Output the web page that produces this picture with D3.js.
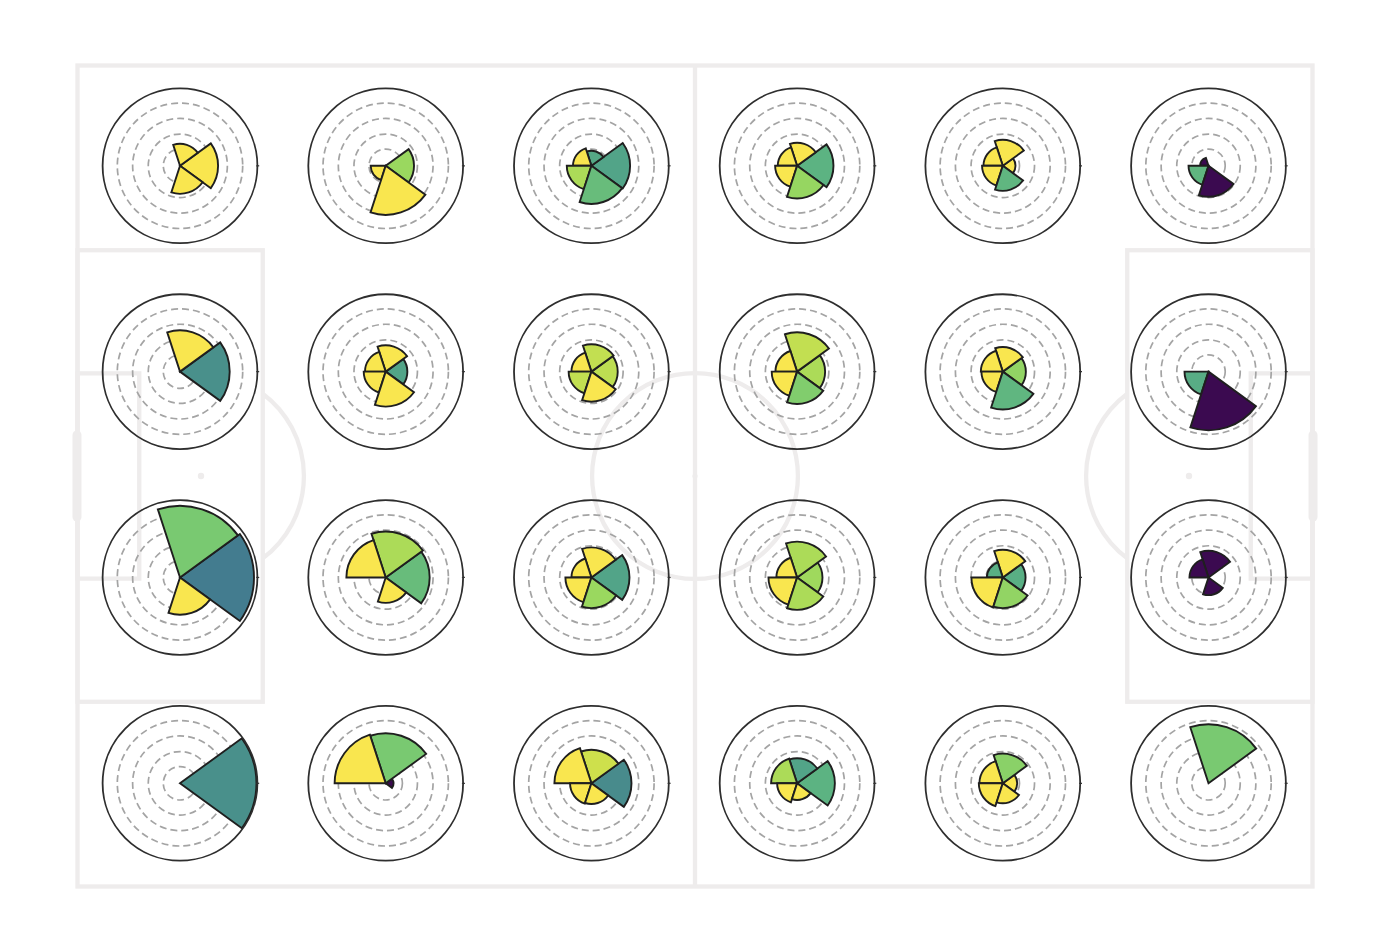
<!DOCTYPE html>
<html>
<head>
<meta charset="utf-8">
<script src="https://cdn.jsdelivr.net/npm/d3@7"></script>
<style>
html,body{margin:0;padding:0;background:#fff;}
svg{display:block;filter:blur(0.6px);}
</style>
</head>
<body>
<div id="chart"></div>
<script>
// Sector centres, degrees counter-clockwise from east (draw order = this order)
const sectorAngles = [0, 72, 144, 216, 288];
const sectorWidth = 72;
const ringTicks = [1.08, 2.05, 3.06, 4.05];
const pitchColumns = [10, 30, 50, 70, 90, 110];
const pitchRows = [10, 30, 50, 70];

// Bar lengths, one list per panel: [E, NNE, WNW, SW, SSE]
const radiiRow1 = [
  [2.46,1.42,0,0,1.81],[1.83,0,0,0.97,3.17],[2.50,0.97,1.19,1.59,2.46],
  [2.35,1.49,1.25,1.42,2.11],[0.82,1.68,1.25,1.34,1.62],[0,0,0.54,1.29,2.00]];
const radiiRow2 = [
  [3.21,2.67,0,0,0],[1.40,1.70,1.34,1.42,2.26],[1.70,1.77,1.29,1.47,1.94],
  [1.81,2.54,1.40,1.64,2.09],[1.49,1.59,1.42,1.38,2.44],[0,0,0,1.55,3.79]];
const radiiRow3 = [
  [4.78,4.63,0,0,2.41],[2.84,2.97,2.54,0,1.64],[2.46,1.94,1.29,1.68,1.98],
  [1.64,2.31,1.34,1.85,2.09],[1.47,1.79,1.03,2.03,1.98],[0,1.72,1.23,0,1.14]];
const radiiRow4 = [
  [4.94,0,0,0,0],[0.5,3.23,3.30,0,0],[2.59,2.16,2.39,1.38,1.34],
  [2.44,1.62,1.68,1.29,1.08],[0.93,1.92,1.51,1.55,1.29],[0,3.81,0,0,0]];

// Colour value of each bar, same layout
const shadeRow1 = [
  [1,1,0,0,1],[.8,0,0,1,1],[.58,.6,1,.84,.68],
  [.65,1,1,1,.79],[1,1,1,1,.66],[0,0,0,.66,0]];
const shadeRow2 = [
  [.5,1,0,0,0],[.58,1,1,1,1],[.88,.89,1,.89,1],
  [.84,.89,1,1,.74],[.78,1,1,1,.66],[0,0,0,.62,0]];
const shadeRow3 = [
  [.42,.72,0,0,1],[.68,.84,1,0,1],[.58,1,1,1,.8],
  [.81,.84,1,1,.84],[.63,1,.63,1,.78],[0,0,0,0,0]];
const shadeRow4 = [
  [.5,0,0,0,0],[0,.72,1,0,0],[.48,.92,1,1,1],
  [.65,.58,.84,1,1],[1,.76,1,1,1],[0,.72,0,0,0]];

const radiiRows = [radiiRow1, radiiRow2, radiiRow3, radiiRow4];
const shadeRows = [shadeRow1, shadeRow2, shadeRow3, shadeRow4];

const W = 1390, H = 952;
const svg = d3.select("#chart").append("svg").attr("width", W).attr("height", H);
svg.append("rect").attr("width", W).attr("height", H).attr("fill", "#fff");

// Pitch (120 x 80 units)
const px = d3.scaleLinear().domain([0, 120]).range([77.5, 1312.5]);
const py = d3.scaleLinear().domain([0, 80]).range([65.5, 886.5]);
const pitchInk = "#eeecec";
const pitch = svg.append("g").attr("fill", "none").attr("stroke", pitchInk).attr("stroke-width", 4.3);
const box = (x0, y0, x1, y1) => pitch.append("rect")
  .attr("x", px(x0)).attr("y", py(y0)).attr("width", px(x1) - px(x0)).attr("height", py(y1) - py(y0));
box(0, 0, 120, 80);
box(0, 18, 18, 62); box(102, 18, 120, 62);
box(0, 30, 6, 50);  box(114, 30, 120, 50);
pitch.append("line").attr("x1", px(60)).attr("x2", px(60)).attr("y1", py(0)).attr("y2", py(80));
const unit = px(1) - px(0);
pitch.append("circle").attr("cx", px(60)).attr("cy", py(40)).attr("r", 10 * unit);
const arcGen = d3.arc();
const halfArc = Math.acos(6 / 10);
[[12, Math.PI / 2], [108, -Math.PI / 2]].forEach(([sx, mid]) => {
  pitch.append("path")
    .attr("transform", `translate(${px(sx)},${py(40)})`)
    .attr("d", arcGen({innerRadius: 10 * unit, outerRadius: 10 * unit, startAngle: mid - halfArc, endAngle: mid + halfArc}));
  svg.append("circle").attr("cx", px(sx)).attr("cy", py(40)).attr("r", 3.2).attr("fill", pitchInk);
});
svg.append("circle").attr("cx", px(60)).attr("cy", py(40)).attr("r", 2.6).attr("fill", pitchInk);
[-0.05, 120.05].forEach(gx => {
  svg.append("line").attr("x1", px(gx)).attr("x2", px(gx)).attr("y1", py(36)).attr("y2", py(44))
    .attr("stroke", pitchInk).attr("stroke-width", 9).attr("stroke-linecap", "round");
});

// Panels
const panelX = d3.scalePoint().domain(pitchColumns).range([180, 1208.5]);
const panelY = d3.scalePoint().domain(pitchRows).range([165.8, 783.3]);
const r = d3.scaleLinear().domain([0, 5]).range([0, 77.4]);
const shade = d3.scaleLinear()
  .domain([0, .42, .5, .58, .65, .72, .8, .86, .92, 1])
  .range(["#3b0a50", "#437c8f", "#49908b", "#52a488", "#5cb382", "#79c971", "#9ad85f", "#b5dd55", "#cee04c", "#f9e64f"]);
const wedge = d3.arc().innerRadius(0);
const rad = d => d * Math.PI / 180;

pitchRows.forEach((row, i) => {
  pitchColumns.forEach((col, j) => {
    const g = svg.append("g").attr("transform", `translate(${panelX(col)},${panelY(row)})`);
    g.selectAll("circle.ring").data(ringTicks).join("circle").attr("class", "ring")
      .attr("r", d => r(d)).attr("fill", "none")
      .attr("stroke", "#a4a4a4").attr("stroke-width", 1.7).attr("stroke-dasharray", "7,4");
    const bars = sectorAngles.map((a, k) => ({a, v: radiiRows[i][j][k], c: shadeRows[i][j][k]}))
      .filter(d => d.v > 0);
    g.selectAll("path.bar").data(bars).join("path").attr("class", "bar")
      .attr("d", d => wedge({
        outerRadius: r(d.v),
        startAngle: rad(90 - d.a - sectorWidth / 2),
        endAngle: rad(90 - d.a + sectorWidth / 2)
      }))
      .attr("fill", d => shade(d.c))
      .attr("stroke", "#1f1f1f").attr("stroke-width", 1.9).attr("stroke-linejoin", "miter");
    g.append("circle").attr("r", r(5)).attr("fill", "none").attr("stroke", "#2e2e2e").attr("stroke-width", 1.8);
    g.append("line").attr("x1", r(5)).attr("x2", r(5) + 1.8).attr("stroke", "#333").attr("stroke-width", 1.2);
    g.append("line").attr("x1", r(5)).attr("x2", r(5) - 1.2).attr("stroke", "#333").attr("stroke-width", 1.2);
  });
});
</script>
</body>
</html>
